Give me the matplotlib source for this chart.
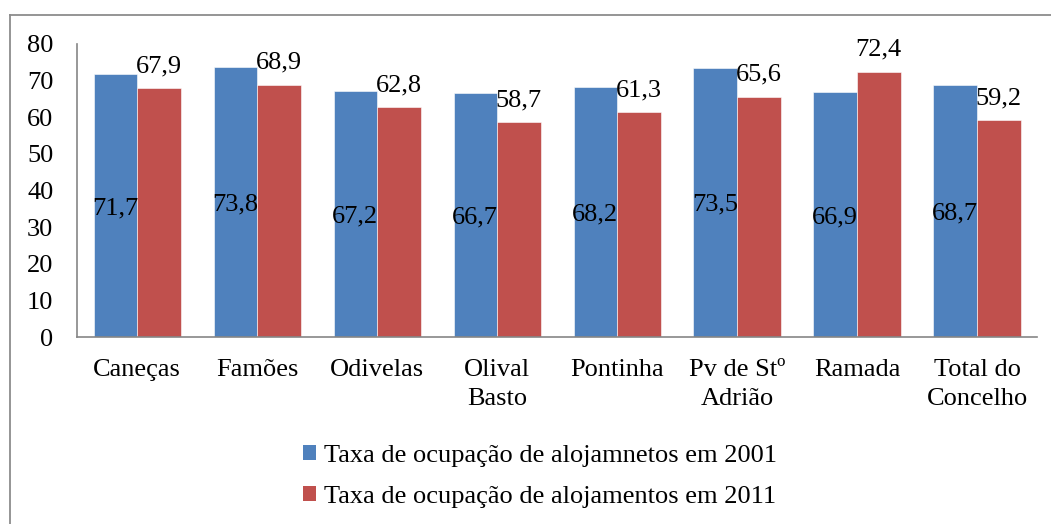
import matplotlib
matplotlib.use("Agg")
import matplotlib.pyplot as plt
from matplotlib.lines import Line2D
from matplotlib.patches import Patch
import numpy as np

categories = ["Caneças", "Famões", "Odivelas", "Olival\nBasto", "Pontinha",
              "Pv de Stº\nAdrião", "Ramada", "Total do\nConcelho"]
values_2001 = [71.7, 73.8, 67.2, 66.7, 68.2, 73.5, 66.9, 68.7]
values_2011 = [67.9, 68.9, 62.8, 58.7, 61.3, 65.6, 72.4, 59.2]
labels_2001 = ["71,7", "73,8", "67,2", "66,7", "68,2", "73,5", "66,9", "68,7"]
labels_2011 = ["67,9", "68,9", "62,8", "58,7", "61,3", "65,6", "72,4", "59,2"]
series_names = ["Taxa de ocupação de alojamnetos em 2001",
                "Taxa de ocupação de alojamentos em 2011"]
yticks = [0, 10, 20, 30, 40, 50, 60, 70, 80]

blue = "#4F81BD"
red = "#C0504D"
axis_gray = "#868686"

plt.rcParams['font.family'] = ['Liberation Serif', 'DejaVu Serif']
FS = 19

W, H = 1051, 524
fig = plt.figure(figsize=(W / 100, H / 100), dpi=100)
ax = fig.add_axes([77 / W, 1 - 337 / H, (1037 - 77) / W, (337 - 44) / H])

x = np.arange(len(categories))
bw = 0.3625
ax.bar(x - bw / 2, values_2001, bw, color=blue, edgecolor="white", linewidth=0.4)
ax.bar(x + bw / 2, values_2011, bw, color=red, edgecolor="white", linewidth=0.4)

for xi, v, lab in zip(x, values_2001, labels_2001):
    ax.text(xi - bw / 2, v / 2, lab, ha="center", va="center_baseline", fontsize=FS)
for xi, v, lab in zip(x, values_2011, labels_2011):
    ax.annotate(lab, (xi + bw / 2, v), xytext=(0, 11.5), textcoords="offset points",
                ha="center", va="baseline", fontsize=FS)

ax.set_xlim(-0.5, len(categories) - 0.5)
ax.set_ylim(0, 80)
ax.set_yticks(yticks)
ax.set_yticklabels([str(t) for t in yticks], fontsize=FS)
ax.set_xticks(x)
ax.set_xticklabels(categories, fontsize=FS, linespacing=1.38)
ax.tick_params(axis="y", length=0, pad=17)
ax.tick_params(axis="x", length=0, pad=16)
for s in ["top", "right"]:
    ax.spines[s].set_visible(False)
for s in ["left", "bottom"]:
    ax.spines[s].set_color(axis_gray)
    ax.spines[s].set_linewidth(1.2)

handles = [Patch(facecolor=blue), Patch(facecolor=red)]
fig.legend(handles, series_names, loc="upper left",
           bbox_to_anchor=(303 / W, 1 - 445 / H), frameon=False, fontsize=FS,
           handlelength=0.5, handleheight=0.5, handletextpad=0.3,
           labelspacing=0.73, borderpad=0, borderaxespad=0)

# outer chart border (cropped on right and bottom)
fig.add_artist(Line2D([9.5 / W, 9.5 / W], [0, 1 - 14.5 / H], transform=fig.transFigure,
                      color="#8c8c8c", linewidth=1.3))
fig.add_artist(Line2D([9.5 / W, 1], [1 - 14.5 / H, 1 - 14.5 / H], transform=fig.transFigure,
                      color="#8c8c8c", linewidth=1.3))

fig.savefig("out.png", dpi=100)
